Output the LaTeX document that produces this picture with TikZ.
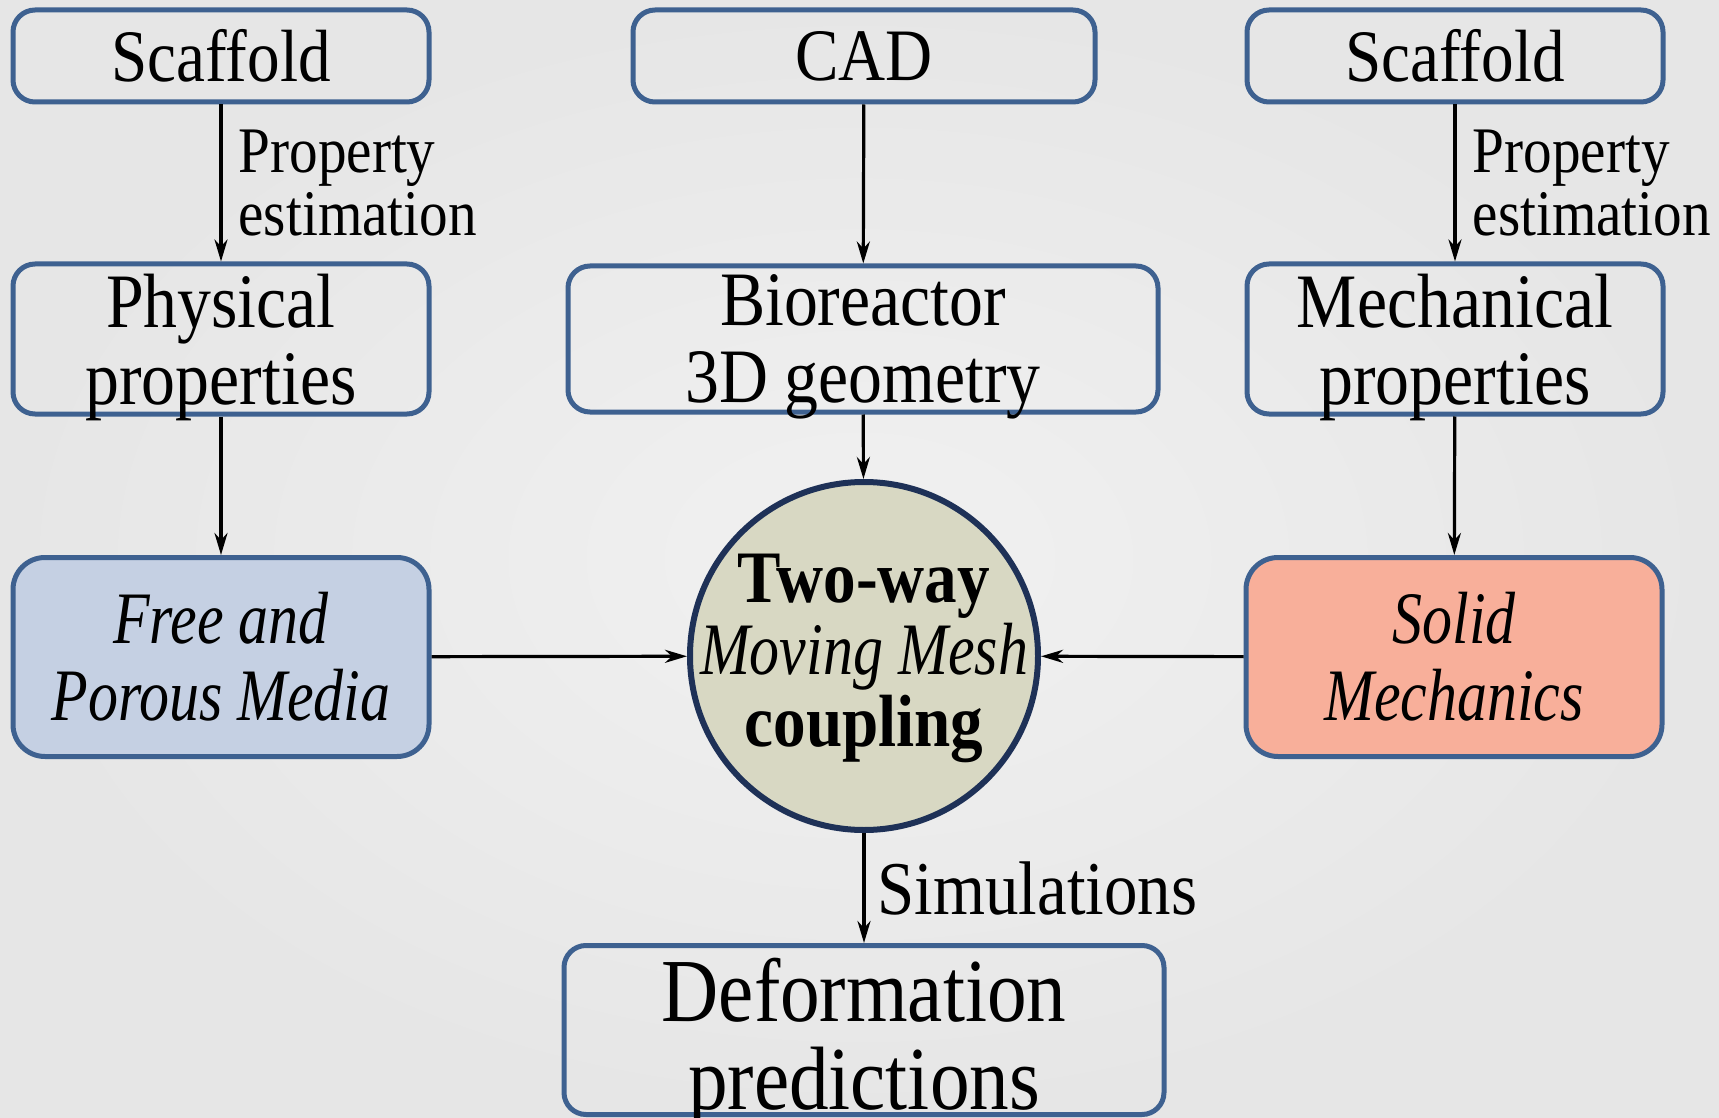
\documentclass[tikz,border=0pt]{standalone}
\usepackage{fontspec}
\setmainfont[FakeStretch=0.88, ItalicFeatures={FakeStretch=0.81}]{Liberation Serif}
\usetikzlibrary{arrows.meta}
\definecolor{boxline}{HTML}{3E6190}
\definecolor{ringline}{HTML}{1E3157}
\definecolor{ringfill}{HTML}{D8D8C3}
\definecolor{fluidfill}{HTML}{C5D0E3}
\definecolor{solidfill}{HTML}{F8AF9A}
\definecolor{bgin}{HTML}{F1F1F1}
\definecolor{bgout}{HTML}{E6E6E6}
\begin{document}
\begin{tikzpicture}[x=0.5pt,y=-0.5pt,
    box/.style={draw=boxline, line width=2.5pt, rounded corners=11pt, inner sep=2pt,
      align=center, minimum width=208pt, font=\fontsize{37}{38.5}\selectfont},
    bigbox/.style={box, rounded corners=16pt, minimum height=99.5pt},
    intext/.style={align=center, inner sep=0pt, yshift=-4pt, font=\fontsize{38.5}{38.5}\selectfont},
    link/.style={-{Stealth[length=11pt,width=6.5pt,inset=3.5pt]}, line width=1.6pt},
    lbl/.style={font=\fontsize{32.5}{31.5}\selectfont, align=left, inner sep=0pt}]
    \useasboundingbox (0,0) rectangle (1719,1118);
    \shade[inner color=bgin, outer color=bgout] (0,0) rectangle (1719,1118);
    \node[box, minimum height=46pt] (scafL) at (221,56) {Scaffold};
    \node[box, minimum height=46pt, minimum width=231pt] (cad) at (864,56) {CAD};
    \node[box, minimum height=46pt] (scafR) at (1455,56) {Scaffold};
    \node[box, minimum height=75pt, label={[intext]center:{Physical\\properties}}] (phys) at (221,339) {};
    \node[box, minimum height=73pt, minimum width=295pt,
      label={[intext]center:{Bioreactor\\3D geometry}}] (bio) at (863,339) {};
    \node[box, minimum height=75pt, label={[intext]center:{Mechanical\\properties}}] (mech) at (1455,339) {};
    \node[bigbox, fill=fluidfill] (fluid) at (221,657) {\itshape Free and\\\itshape Porous Media};
    \node[bigbox, fill=solidfill] (solid) at (1454,657) {\itshape Solid\\\itshape Mechanics};
    \node[circle, draw=ringline, line width=3pt, fill=ringfill, minimum size=174pt, inner sep=0pt,
      label={[intext, yshift=3pt, font=\fontsize{37}{36}\selectfont]center:{\bfseries Two-way\\\itshape Moving Mesh\\\bfseries coupling}}]
      (ring) at (864,656) {};
    \node[box, minimum height=84.5pt, minimum width=300pt,
      label={[intext, yshift=-2.5pt, font=\fontsize{45}{44}\selectfont]center:{Deformation\\predictions}}]
      (deform) at (864,1030) {};
    \draw[link] (scafL) -- node[lbl, right, xshift=8pt] {Property\\estimation} (phys);
    \draw[link] (cad) -- (bio);
    \draw[link] (scafR) -- node[lbl, right, xshift=8pt] {Property\\estimation} (mech);
    \draw[link] (phys) -- (fluid);
    \draw[link] (bio) -- (ring);
    \draw[link] (mech) -- (solid);
    \draw[link] (fluid) -- (ring);
    \draw[link] (solid) -- (ring);
    \draw[link] (ring) -- node[lbl, right, xshift=6pt, font=\fontsize{38}{38}\selectfont] {Simulations} (deform);
\end{tikzpicture}
\end{document}
